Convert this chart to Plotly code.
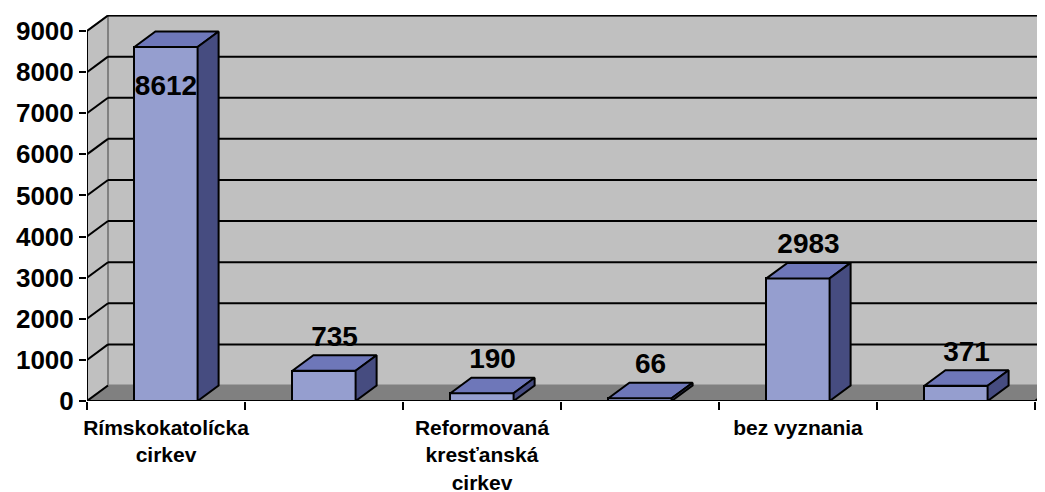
import plotly.graph_objects as go

# ---- data ----
categories = ["Rímskokatolícka cirkev", "Evanjelická cirkev a. v.", "Reformovaná kresťanská cirkev",
              "Gréckokatolícka cirkev", "bez vyznania", "nezistené"]
values = [8612, 735, 190, 66, 2983, 371]
shown_labels = ["Rímskokatolícka<br>cirkev", "", "Reformovaná<br>kresťanská<br>cirkev", "", "bez vyznania", ""]
y_ticks = [0, 1000, 2000, 3000, 4000, 5000, 6000, 7000, 8000, 9000]

# ---- style / geometry ----
FONT = "Arial, 'Liberation Sans', sans-serif"
front_c, top_c, side_c = "#959ecf", "#6e77b9", "#464c80"
wall_c, floor_c, edge_c = "#c0c0c0", "#808080", "#808080"
n = len(categories)
dx, dy = 0.133, 377          # depth offset (x in category units, y in value units)
bw = 0.40                    # bar front width
ymax_axis = 9000
x0, x1 = -0.5, n - 0.5
xr = [x0, x1 + 10 / 158]
yr = [0, 9390]

fig = go.Figure()

shapes = []
# back wall
shapes.append(dict(type="rect", xref="x", yref="y", x0=x0 + dx, x1=xr[1] + 1, y0=dy, y1=ymax_axis + dy,
                   fillcolor=wall_c, line=dict(color=edge_c, width=2), layer="below"))
# left side wall
shapes.append(dict(type="path", xref="x", yref="y",
                   path=f"M {x0},{0} L {x0+dx},{dy} L {x0+dx},{ymax_axis+dy} L {x0},{ymax_axis} Z",
                   fillcolor=wall_c, line=dict(color=edge_c, width=2), layer="below"))
# floor
shapes.append(dict(type="path", xref="x", yref="y",
                   path=f"M {x0},{0} L {x1},{0} L {x1+dx},{dy} L {xr[1]+1},{dy} L {x0+dx},{dy} Z",
                   fillcolor=floor_c, line=dict(color=floor_c, width=1), layer="below"))
# gridlines (back wall + left wall diagonals)
for t in y_ticks[1:]:
    shapes.append(dict(type="line", xref="x", yref="y", x0=x0 + dx, x1=xr[1] + 1, y0=t + dy, y1=t + dy,
                       line=dict(color="black", width=2), layer="below"))
    shapes.append(dict(type="line", xref="x", yref="y", x0=x0, x1=x0 + dx, y0=t, y1=t + dy,
                       line=dict(color="black", width=2), layer="below"))
# front axis lines
shapes.append(dict(type="line", xref="x", yref="y", x0=x0, x1=x0, y0=0, y1=ymax_axis,
                   line=dict(color="black", width=2)))
shapes.append(dict(type="line", xref="x", yref="y", x0=x0, x1=x1, y0=0, y1=0,
                   line=dict(color="black", width=2)))
shapes.append(dict(type="line", xref="x", yref="y", x0=x0, x1=x0 + dx, y0=0, y1=dy,
                   line=dict(color="black", width=2)))
shapes.append(dict(type="line", xref="x", yref="y", x0=x1, x1=x1 + dx, y0=0, y1=dy,
                   line=dict(color="black", width=2)))

xs = list(range(n))
# front faces
fig.add_trace(go.Bar(x=xs, y=values, width=bw, marker=dict(color=front_c, line=dict(color="black", width=2)),
                     hoverinfo="skip", showlegend=False))
# top and side faces
for i, v in enumerate(values):
    l, r = i - bw / 2, i + bw / 2
    fig.add_trace(go.Scatter(x=[l, r, r + dx, l + dx, l], y=[v, v, v + dy, v + dy, v], fill="toself",
                             fillcolor=top_c, mode="lines", line=dict(color="black", width=2),
                             hoverinfo="skip", showlegend=False))
    fig.add_trace(go.Scatter(x=[r, r + dx, r + dx, r, r], y=[0, dy, v + dy, v, 0], fill="toself",
                             fillcolor=side_c, mode="lines", line=dict(color="black", width=2),
                             hoverinfo="skip", showlegend=False))

# data labels
lab_x, lab_y = [], []
for i, v in enumerate(values):
    if v + dy + 510 > ymax_axis:
        lab_x.append(i)
        lab_y.append(v - 1000)
    else:
        lab_x.append(i + dx / 2)
        lab_y.append(v + dy + 400)
fig.add_trace(go.Scatter(x=lab_x, y=lab_y, mode="text", text=[str(v) for v in values],
                         textposition="middle center",
                         textfont=dict(family=FONT, size=28, color="black", weight="bold"),
                         hoverinfo="skip", showlegend=False, cliponaxis=False))

# invisible trace to activate the label axis
fig.add_trace(go.Scatter(x=[0], y=[0], xaxis="x2", mode="markers", marker=dict(opacity=0),
                         hoverinfo="skip", showlegend=False))

fig.update_layout(
    width=1037, height=484,
    margin=dict(l=79, r=0, t=7, b=91),
    paper_bgcolor="white", plot_bgcolor="white",
    shapes=shapes,
    bargap=0,
    xaxis=dict(range=xr, tickvals=[x0 + k for k in range(n + 1)], ticktext=[""] * (n + 1),
               ticks="outside", ticklen=8, tickwidth=2, tickcolor="black", automargin=False,
               showgrid=False, zeroline=False, showline=False),
    xaxis2=dict(range=xr, overlaying="x", side="bottom", anchor="y", tickvals=xs, ticktext=shown_labels,
                ticks="", showgrid=False, zeroline=False, showline=False, automargin=False,
                ticklabelstandoff=12,
                tickfont=dict(family=FONT, size=21, color="black", weight="bold")),
    yaxis=dict(range=yr, tickvals=y_ticks, ticktext=[str(t) for t in y_ticks],
               ticks="outside", ticklen=7, tickwidth=2, tickcolor="black", automargin=False,
               showgrid=False, zeroline=False, showline=False,
               tickfont=dict(family=FONT, size=26, color="black", weight="bold")),
)

fig.write_html("out.html")
